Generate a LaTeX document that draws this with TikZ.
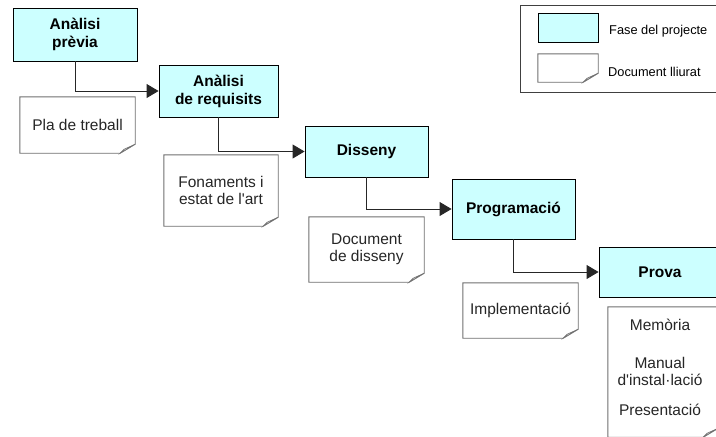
\documentclass[tikz,border=0pt]{standalone}
\usepackage{fontspec}
\setmainfont{Liberation Sans}
\usetikzlibrary{arrows.meta}
\definecolor{phasefill}{HTML}{CCFFFF}
\definecolor{docline}{HTML}{707070}

\tikzset{
  phase/.style={draw=black, line width=0.9pt, fill=phasefill, inner sep=0pt,
    align=center, font=\fontsize{15.5}{18}\selectfont\bfseries},
  docbox/.style={inner sep=0pt, align=center, text=black!85,
    font=\fontsize{15.5}{17}\selectfont},
  doctext/.style={inner sep=0pt, align=center, text=black!85,
    font=\fontsize{15.5}{17}\selectfont},
  flow/.style={line width=0.9pt, draw=black!85, -{Triangle[length=12pt,width=14pt]}},
  docedge/.style={draw=docline, line width=0.9pt},
  fold/.style={draw=docline, line width=0.6pt, fill=black!12},
  legendtext/.style={inner sep=0pt, anchor=west, font=\fontsize{12.8}{14}\selectfont},
}

% document outline with a folded bottom-right corner
\newcommand\docoutline[1]{%
  \draw[docedge] (#1.north west) -- (#1.north east) -- ([yshift=9pt]#1.south east)
    -- ([xshift=-15pt]#1.south east) -- (#1.south west) -- cycle;
  \draw[fold] ([yshift=9pt]#1.south east) -- ([xshift=-11pt,yshift=4pt]#1.south east)
    -- ([xshift=-15pt]#1.south east) -- cycle;
}

\begin{document}
\begin{tikzpicture}[x=1pt, y=-1pt]
\clip (0,0) rectangle (716,437);
\fill[white] (0,0) rectangle (716,437);

% project phases
\node[phase, minimum width=124pt, minimum height=53pt] (p1) at (75,34.5) {Anàlisi\\prèvia};
\node[phase, minimum width=119pt, minimum height=52pt] (p2) at (218.5,91) {Anàlisi\\de requisits};
\node[phase, minimum width=123pt, minimum height=51pt] (p3) at (366.5,151.5) {Disseny};
\node[phase, minimum width=123pt, minimum height=60pt] (p4) at (513.5,209) {Programació};
\node[phase, minimum width=122pt, minimum height=50pt] (p5) at (660,272) {Prova};

% delivered documents
\node[docbox, minimum width=115pt, minimum height=56pt] (d1) at (77.5,125) {Pla de treball};
\node[docbox, minimum width=114pt, minimum height=71pt] (d2) at (221,190.5) {Fonaments i\\estat de l\textquotesingle art};
\node[docbox, minimum width=115pt, minimum height=65pt] (d3) at (366.5,249.5) {Document\\de disseny};
\node[docbox, minimum width=115pt, minimum height=55pt] (d4) at (520.5,310.5) {Implementació};
\node[docbox, minimum width=110pt, minimum height=130pt] (d5) at (663,372) {};
\node[doctext] (d5a) at (660,325) {Memòria};
\node[doctext] (d5b) at (660,371.5) {Manual\\d\textquotesingle instal·lació};
\node[doctext] (d5c) at (660,410) {Presentació};

\foreach \n in {d1,d2,d3,d4,d5} {\docoutline{\n}}

% phase sequence
\draw[flow] (p1.south) |- (p2.west);
\draw[flow] (p2.south) |- (p3.west);
\draw[flow] (p3.south) |- (p4.west);
\draw[flow] (p4.south) |- (p5.west);

% legend
\node[draw=black!75, line width=0.9pt, minimum width=200pt, minimum height=87pt, inner sep=0pt] (leg) at (620,48.5) {};
\node[phase, minimum width=60pt, minimum height=29pt] (lp) at (568,27.5) {};
\node[docbox, minimum width=60pt, minimum height=28pt] (ld) at (568,68) {};
\docoutline{ld}
\node[legendtext] (lpt) at (609,31) {Fase del projecte};
\node[legendtext] (ldt) at (608,72) {Document lliurat};
\end{tikzpicture}
\end{document}
